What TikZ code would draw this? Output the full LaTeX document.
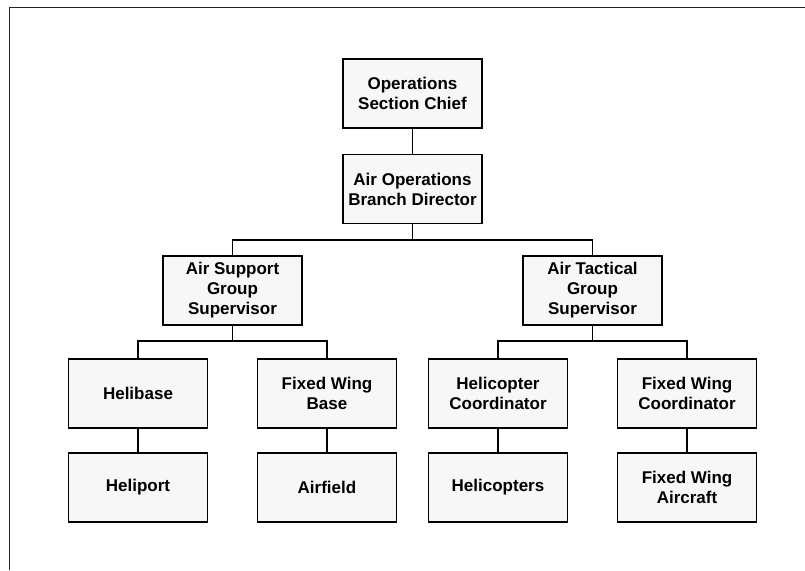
\documentclass[tikz,border=0pt]{standalone}
\usepackage{fontspec}
\setmainfont{Liberation Sans}
\definecolor{boxfill}{HTML}{F7F7F7}
\definecolor{framegray}{HTML}{222222}
\tikzset{
  orgbox/.style={draw=black, line width=1.3pt, fill=boxfill, minimum width=139pt,
    minimum height=69pt, inner sep=0pt, align=center,
    font=\bfseries\fontsize{17}{20}\selectfont},
  link/.style={draw=black, line width=1.1pt}
}
\begin{document}
\begin{tikzpicture}[x=1pt, y=-1pt]
\useasboundingbox (0,0) rectangle (805,570);
% outer frame (top and left edges)
\draw[framegray, line width=1.6pt] (805,7.5) -- (9.5,7.5) -- (9.5,570);

% boxes
\node[orgbox] (ops)   at (412.5,93.5)  {Operations\\Section Chief};
\node[orgbox] (aob)   at (412.5,189)   {Air Operations\\Branch Director};
\node[orgbox] (asg)   at (232.5,290.5) {Air Support\\Group\\Supervisor};
\node[orgbox] (atg)   at (592.5,290.5) {Air Tactical\\Group\\Supervisor};
\node[orgbox] (hbase) at (138,393.5)   {Helibase};
\node[orgbox] (fwb)   at (327,393.5)   {Fixed Wing\\Base};
\node[orgbox] (hco)   at (498,393.5)   {Helicopter\\Coordinator};
\node[orgbox] (fwco)  at (687,393.5)   {Fixed Wing\\Coordinator};
\node[orgbox] (hport) at (138,487.5)   {Heliport};
\node[orgbox] (afld)  at (327,487.5)   {Airfield};
\node[orgbox] (heli)  at (498,487.5)   {Helicopters};
\node[orgbox] (fwa)   at (687,487.5)   {Fixed Wing\\Aircraft};

% branch points
\coordinate (b1) at (412.5,240);
\coordinate (b2) at (232.5,341);
\coordinate (b3) at (592.5,341);

% connectors
\draw[link] (ops.south) -- (aob.north);
\draw[link] (aob.south) -- (b1);
\draw[link] (asg.north) |- (b1) -| (atg.north);
\draw[link] (asg.south) -- (b2);
\draw[link] (hbase.north) |- (b2) -| (fwb.north);
\draw[link] (atg.south) -- (b3);
\draw[link] (hco.north) |- (b3) -| (fwco.north);
\draw[link] (hbase.south) -- (hport.north);
\draw[link] (fwb.south) -- (afld.north);
\draw[link] (hco.south) -- (heli.north);
\draw[link] (fwco.south) -- (fwa.north);
\end{tikzpicture}
\end{document}
